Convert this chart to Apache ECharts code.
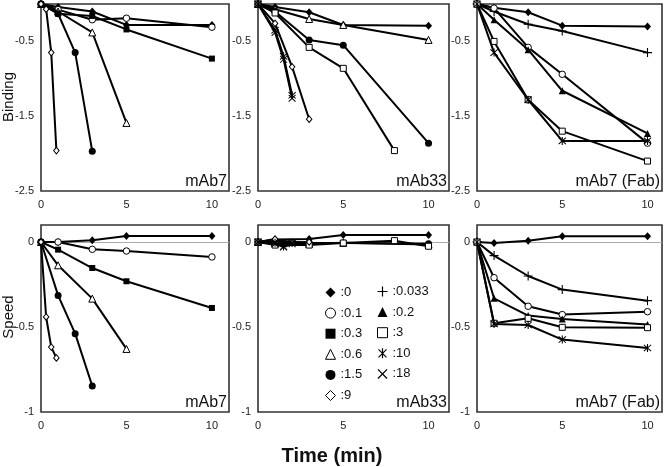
<!DOCTYPE html>
<html>
<head>
<meta charset="utf-8">
<script src="https://cdn.jsdelivr.net/npm/echarts@6/dist/echarts.min.js"></script>
<style>
  html, body { margin: 0; padding: 0; background: #fff; }
  #chart { width: 664px; height: 467px; }
</style>
</head>
<body>
<div id="chart"></div>
<script>
// ---------- time points (min) ----------
const xStd   = [0, 1, 3, 5, 10];
const xTo5   = [0, 1, 3, 5];
const xTo3   = [0, 1, 2, 3];
const xFast  = [0, 0.3, 0.6, 0.9];
const xTo8   = [0, 1, 3, 5, 8];
const xTo8b  = [0, 1, 3, 5, 8, 10];
const xBurst = [0, 1, 1.5, 2];

// ---------- Binding: mAb7 ----------
const b7_c0   = [0, -0.04, -0.10, -0.28, -0.28];
const b7_c01  = [0, -0.075, -0.21, -0.19, -0.31];
const b7_c03  = [0, -0.13, -0.16, -0.34, -0.73];
const b7_c06  = [0, -0.10, -0.38, -1.59];
const b7_c15  = [0, -0.13, -0.65, -1.97];
const b7_c9   = [0, -0.07, -0.65, -1.96];

// ---------- Binding: mAb33 ----------
const b33_c0  = [0, -0.04, -0.11, -0.28, -0.29];
const b33_c06 = [0, -0.07, -0.20, -0.28, -0.48];
const b33_c15 = [0, -0.10, -0.48, -0.55, -1.86];
const b33_c3  = [0, -0.12, -0.58, -0.86, -1.96];
const b33_c9  = [0, -0.26, -0.84, -1.54];
const b33_c10 = [0, -0.35, -0.70, -1.22];
const b33_c18 = [0, -0.38, -0.74, -1.26];

// ---------- Binding: mAb7 (Fab) ----------
const bF_c0    = [0, -0.05, -0.11, -0.29, -0.30];
const bF_c0033 = [0, -0.10, -0.27, -0.36, -0.65];
const bF_c01   = [0, -0.055, -0.58, -0.94, -1.86];
const bF_c02   = [0, -0.21, -0.61, -1.16, -1.73];
const bF_c3    = [0, -0.50, -1.28, -1.70, -2.10];
const bF_c10   = [0, -0.65, -1.28, -1.83, -1.83];

// ---------- Speed: mAb7 ----------
const s7_c0   = [0, 0, 0.01, 0.035, 0.035];
const s7_c01  = [0, 0, -0.043, -0.053, -0.088];
const s7_c03  = [0, -0.045, -0.153, -0.231, -0.388];
const s7_c06  = [0, -0.137, -0.333, -0.629];
const s7_c15  = [0, -0.314, -0.539, -0.847];
const s7_c9   = [0, -0.441, -0.618, -0.682];

// ---------- Speed: mAb33 ----------
const s33_c0  = [0, 0.014, 0.017, 0.041, 0.041];
const s33_c06 = [0, -0.005, -0.010, -0.005, -0.015];
const s33_c15 = [0, 0.008, -0.004, -0.006, -0.010];
const s33_c3  = [0, -0.018, -0.018, -0.006, 0.008, -0.025];
const s33_c9  = [0, 0.017, -0.004, 0.0];
const s33_c10 = [0, -0.005, -0.027, -0.005];
const s33_c18 = [0, -0.010, -0.030, -0.010];

// ---------- Speed: mAb7 (Fab) ----------
const sF_c0    = [0, -0.006, 0.008, 0.034, 0.034];
const sF_c0033 = [0, -0.08, -0.20, -0.28, -0.345];
const sF_c01   = [0, -0.21, -0.378, -0.427, -0.41];
const sF_c02   = [0, -0.331, -0.433, -0.453, -0.486];
const sF_c3    = [0, -0.478, -0.449, -0.502, -0.504];
const sF_c10   = [0, -0.482, -0.488, -0.574, -0.623];

// ---------- labels ----------
const panelNames = ['mAb7', 'mAb33', 'mAb7 (Fab)', 'mAb7', 'mAb33', 'mAb7 (Fab)'];
const legendCol1 = [':0', ':0.1', ':0.3', ':0.6', ':1.5', ':9'];
const legendCol2 = [':0.033', ':0.2', ':3', ':10', ':18'];

// ---------- marker styles ----------
const PLUS  = 'path://M-0.6,-5L0.6,-5L0.6,-0.6L5,-0.6L5,0.6L0.6,0.6L0.6,5L-0.6,5L-0.6,0.6L-5,0.6L-5,-0.6L-0.6,-0.6Z';
const CROSS = 'path://M-4.4,-3.6L-3.6,-4.4L4.4,3.6L3.6,4.4Z M3.6,-4.4L4.4,-3.6L-3.6,4.4L-4.4,3.6Z';
const STAR  = 'path://M-4.4,-3.6L-3.6,-4.4L4.4,3.6L3.6,4.4Z M3.6,-4.4L4.4,-3.6L-3.6,4.4L-4.4,3.6Z M-0.6,-5L0.6,-5L0.6,5L-0.6,5Z';
const mk = {
  ':0':     { symbol: 'diamond',  size: [7, 8], fill: '#000', border: 0 },
  ':0.033': { symbol: PLUS,       size: 9, fill: '#000', border: 0 },
  ':0.1':   { symbol: 'circle',   size: 6.5, fill: '#fff', border: 1 },
  ':0.2':   { symbol: 'triangle', size: 7, fill: '#000', border: 0 },
  ':0.3':   { symbol: 'rect',     size: 6, fill: '#000', border: 0 },
  ':0.6':   { symbol: 'triangle', size: 7, fill: '#fff', border: 1 },
  ':1.5':   { symbol: 'circle',   size: 7, fill: '#000', border: 0 },
  ':3':     { symbol: 'rect',     size: 6, fill: '#fff', border: 1 },
  ':9':     { symbol: 'diamond',  size: [5.5, 6.5], fill: '#fff', border: 1 },
  ':10':    { symbol: STAR,       size: 8, fill: '#000', border: 0 },
  ':18':    { symbol: CROSS,      size: 7.5, fill: '#000', border: 0 }
};

// ---------- panel definitions ----------
const panelSeries = [
  [[':0', xStd, b7_c0], [':0.1', xStd, b7_c01], [':0.3', xStd, b7_c03], [':0.6', xTo5, b7_c06], [':1.5', xTo3, b7_c15], [':9', xFast, b7_c9]],
  [[':0', xStd, b33_c0], [':0.6', xStd, b33_c06], [':1.5', xStd, b33_c15], [':3', xTo8, b33_c3], [':9', xTo3, b33_c9], [':10', xBurst, b33_c10], [':18', xBurst, b33_c18]],
  [[':0', xStd, bF_c0], [':0.033', xStd, bF_c0033], [':0.1', xStd, bF_c01], [':0.2', xStd, bF_c02], [':3', xStd, bF_c3], [':10', xStd, bF_c10]],
  [[':0', xStd, s7_c0], [':0.1', xStd, s7_c01], [':0.3', xStd, s7_c03], [':0.6', xTo5, s7_c06], [':1.5', xTo3, s7_c15], [':9', xFast, s7_c9]],
  [[':0', xStd, s33_c0], [':0.6', xStd, s33_c06], [':1.5', xStd, s33_c15], [':3', xTo8b, s33_c3], [':9', xTo3, s33_c9], [':10', xBurst, s33_c10], [':18', xBurst, s33_c18]],
  [[':0', xStd, sF_c0], [':0.033', xStd, sF_c0033], [':0.1', xStd, sF_c01], [':0.2', xStd, sF_c02], [':3', xStd, sF_c3], [':10', xStd, sF_c10]]
];

const FONT = '"Liberation Sans", Arial, Helvetica, sans-serif';
const cols = [ { left: 41, width: 188, xmax: 11 }, { left: 258, width: 191, xmax: 11.2 }, { left: 477, width: 185, xmax: 10.85 } ];
const rows = [ { top: 4, height: 187, ymin: -2.5, ymax: 0, yint: 1 }, { top: 225, height: 187, ymin: -1, ymax: 0.1, yint: 0.5 } ];

const grids = [], xAxes = [], yAxes = [], series = [], graphics = [];
for (let r = 0; r < 2; r++) {
  for (let c = 0; c < 3; c++) {
    const i = r * 3 + c;
    const C = cols[c], R = rows[r];
    grids.push({ left: C.left, top: R.top, width: C.width, height: R.height, show: true,
      borderColor: '#333', borderWidth: 1.6, backgroundColor: 'transparent', containLabel: false });
    xAxes.push({ type: 'value', gridIndex: i, min: 0, max: C.xmax, interval: 5,
      axisLine: { show: false }, axisTick: { show: false }, splitLine: { show: false },
      axisLabel: { showMaxLabel: false, margin: 8, fontSize: 11, color: '#222', fontFamily: FONT } });
    yAxes.push({ type: 'value', gridIndex: i, min: R.ymin, max: R.ymax, interval: R.yint,
      axisLine: { show: false }, axisTick: { show: false }, splitLine: { show: false },
      axisLabel: { showMaxLabel: false, margin: 7, fontSize: 11, color: '#222', fontFamily: FONT } });
    panelSeries[i].forEach(([name, xs, ys], k) => {
      const m = mk[name];
      const s = {
        type: 'line', name, xAxisIndex: i, yAxisIndex: i,
        data: xs.map((x, j) => [x, ys[j]]),
        symbol: m.symbol, symbolSize: m.size, showAllSymbol: true,
        lineStyle: { color: '#000', width: 2 },
        itemStyle: { color: m.fill, borderColor: '#000', borderWidth: m.border },
        emphasis: { disabled: true }, animation: false, z: 3 + k
      };
      if (r === 1 && k === 0) {
        s.markLine = { silent: true, symbol: 'none', label: { show: false },
          lineStyle: { color: '#aaa', width: 1, type: 'solid' }, data: [{ yAxis: 0 }], z: 1 };
      }
      series.push(s);
    });
    graphics.push({ type: 'text', x: C.left + C.width - 2, y: R.top + R.height - 1,
      style: { text: panelNames[i], font: '16px ' + FONT, fill: '#111', textAlign: 'right', textVerticalAlign: 'bottom' } });
  }
}

graphics.push({ type: 'text', x: 9, y: 97, rotation: Math.PI / 2,
  style: { text: 'Binding', font: '15px ' + FONT, fill: '#111', textAlign: 'center', textVerticalAlign: 'middle' } });
graphics.push({ type: 'text', x: 9, y: 317, rotation: Math.PI / 2,
  style: { text: 'Speed', font: '15px ' + FONT, fill: '#111', textAlign: 'center', textVerticalAlign: 'middle' } });
graphics.push({ type: 'text', x: 332, y: 456,
  style: { text: 'Time (min)', font: 'bold 20px ' + FONT, fill: '#111', textAlign: 'center', textVerticalAlign: 'middle' } });

function legendItems(names) {
  return names.map(n => ({ name: n, icon: mk[n].symbol,
    itemStyle: { color: mk[n].fill, borderColor: '#000', borderWidth: mk[n].border } }));
}
const legendCommon = { orient: 'vertical', padding: 0, itemWidth: 10, itemHeight: 10, itemGap: 7.6,
  selectedMode: false, textStyle: { fontSize: 13, lineHeight: 13, color: '#111', fontFamily: FONT } };

const chart = echarts.init(document.getElementById('chart'), null, { renderer: 'canvas' });
chart.setOption({
  animation: false,
  backgroundColor: '#fff',
  grid: grids,
  xAxis: xAxes,
  yAxis: yAxes,
  legend: [
    Object.assign({ left: 325, top: 286, data: legendItems(legendCol1) }, legendCommon),
    Object.assign({ left: 377, top: 285, data: legendItems(legendCol2) }, legendCommon)
  ],
  graphic: graphics,
  series: series
});
</script>
</body>
</html>
